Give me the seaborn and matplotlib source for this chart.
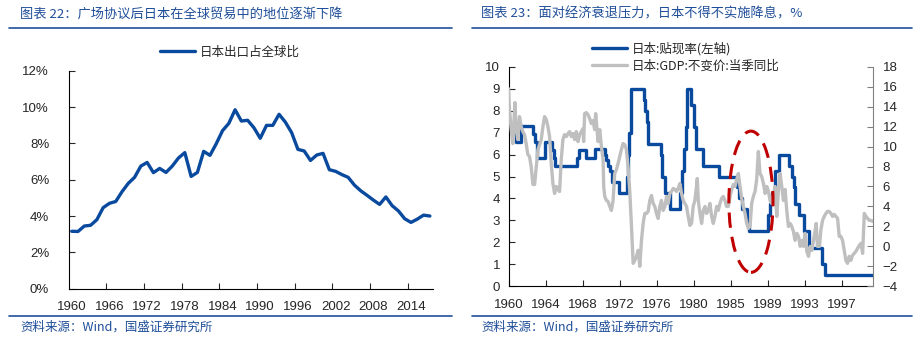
import matplotlib
matplotlib.use("Agg")
import matplotlib.pyplot as plt
from matplotlib.lines import Line2D
from matplotlib.patches import Ellipse
from matplotlib.ticker import PercentFormatter, FixedLocator, NullFormatter
import pandas as pd
import seaborn as sns

# ---- left panel: Japan share of world exports (%) ----
years = list(range(1960, 2018))
export_share = [3.16, 3.15, 3.45, 3.49, 3.80, 4.46, 4.70, 4.80, 5.34, 5.80,
                6.13, 6.75, 6.95, 6.39, 6.62, 6.40, 6.75, 7.20, 7.49, 6.18,
                6.40, 7.56, 7.34, 7.98, 8.70, 9.10, 9.85, 9.23, 9.27, 8.86,
                8.28, 8.99, 8.99, 9.60, 9.17, 8.59, 7.67, 7.58, 7.06, 7.36,
                7.45, 6.55, 6.46, 6.28, 6.13, 5.70, 5.39, 5.14, 4.88, 4.64,
                5.05, 4.57, 4.28, 3.85, 3.65, 3.83, 4.05, 4.00]
left_labels = ['1960', '1966', '1972', '1978', '1984', '1990', '1996', '2002', '2008', '2014']

# ---- right panel: discount rate (steps) and real GDP yoy ----
# x is the chart's own (uneven) time axis, in label units
rate_t = [1960.00, 1960.65, 1960.83, 1961.37, 1962.64, 1962.82, 1963.07, 1963.90,
          1964.73, 1964.87, 1965.05, 1967.40, 1967.62, 1968.34, 1969.31, 1970.40,
          1970.58, 1970.76, 1970.94, 1971.23, 1971.91, 1972.85, 1972.92, 1973.03,
          1973.29, 1974.66, 1974.80, 1974.98, 1975.09, 1976.53, 1976.61, 1976.90,
          1977.44, 1978.52, 1978.70, 1978.95, 1979.17, 1979.24, 1979.71, 1980.04,
          1980.25, 1981.05, 1982.78, 1984.73, 1984.95, 1985.20, 1985.74, 1985.96,
          1988.09, 1988.30, 1988.45, 1988.81, 1989.28, 1990.36, 1990.61, 1990.83,
          1991.01, 1991.37, 1991.88, 1992.42, 1993.86, 1994.22, 1999.39]
rate_v = [7.30, 6.94, 6.57, 7.30, 6.94, 6.57, 5.84, 6.57,
          6.21, 5.84, 5.48, 5.84, 6.21, 5.84, 6.25, 6.00,
          5.75, 5.50, 5.25, 4.75, 4.25, 5.00, 6.00, 7.00,
          9.00, 8.50, 8.00, 7.50, 6.50, 6.00, 5.00, 4.25,
          3.50, 4.25, 5.25, 6.25, 7.25, 9.00, 8.25, 7.25,
          6.25, 5.50, 5.00, 4.50, 4.00, 3.50, 3.00, 2.50,
          3.25, 3.75, 4.25, 5.25, 6.00, 5.50, 5.00, 4.50,
          3.75, 3.25, 2.50, 1.75, 1.00, 0.50, 0.50]

gdp_t = [1960.00, 1960.11, 1960.29, 1960.47, 1960.69, 1960.83, 1961.01, 1961.19, 1961.37, 1961.55,
         1961.73, 1961.91, 1962.09, 1962.27, 1962.45, 1962.64, 1962.82, 1963.00, 1963.18, 1963.54,
         1963.72, 1963.90, 1964.08, 1964.26, 1964.44, 1964.62, 1964.80, 1964.98, 1965.16, 1965.34,
         1965.52, 1965.70, 1965.88, 1966.06, 1966.25, 1966.43, 1966.61, 1966.79, 1966.97, 1967.15,
         1967.33, 1967.51, 1967.69, 1967.87, 1968.05, 1968.12, 1968.23, 1968.41, 1968.59, 1968.77,
         1968.95, 1969.13, 1969.31, 1969.42, 1969.57, 1969.68, 1969.86, 1970.04, 1970.22, 1970.29,
         1970.40, 1970.58, 1970.76, 1970.94, 1971.12, 1971.30, 1971.48, 1971.66, 1971.84, 1972.02,
         1972.20, 1972.38, 1972.56, 1972.74, 1972.92, 1973.10, 1973.29, 1973.47, 1973.65, 1973.83,
         1974.01, 1974.19, 1974.37, 1974.55, 1974.73, 1974.91, 1975.09, 1975.27, 1975.45, 1975.63,
         1975.81, 1975.99, 1976.17, 1976.35, 1976.53, 1976.71, 1976.90, 1977.08, 1977.26, 1977.44,
         1977.62, 1977.80, 1977.98, 1978.16, 1978.34, 1978.52, 1978.70, 1978.88, 1979.06, 1979.24,
         1979.42, 1979.60, 1979.78, 1979.96, 1980.14, 1980.32, 1980.40, 1980.51, 1980.69, 1980.87,
         1981.05, 1981.23, 1981.41, 1981.59, 1981.77, 1981.95, 1982.13, 1982.31, 1982.49, 1982.67,
         1982.85, 1983.03, 1983.21, 1983.39, 1983.57, 1983.75, 1983.94, 1984.12, 1984.30, 1984.48,
         1984.66, 1984.84, 1985.02, 1985.20, 1985.38, 1985.56, 1985.74, 1985.92, 1986.10, 1986.28,
         1986.46, 1986.64, 1986.82, 1987.00, 1987.18, 1987.36, 1987.55, 1987.73, 1987.91, 1988.09,
         1988.27, 1988.45, 1988.63, 1988.81, 1988.99, 1989.17, 1989.35, 1989.53, 1989.71, 1989.89,
         1990.07, 1990.25, 1990.43, 1990.61, 1990.79, 1990.97, 1991.16, 1991.34, 1991.52, 1991.70,
         1991.88, 1992.06, 1992.24, 1992.42, 1992.60, 1992.78, 1992.96, 1993.14, 1993.25, 1993.39,
         1993.61, 1993.75, 1993.94, 1994.12, 1994.30, 1994.48, 1994.66, 1994.84, 1995.02, 1995.20,
         1995.38, 1995.56, 1995.74, 1995.92, 1996.10, 1996.28, 1996.46, 1996.64, 1996.82, 1997.00,
         1997.18, 1997.36, 1997.54, 1997.73, 1997.91, 1998.09, 1998.27, 1998.45, 1998.63, 1998.81,
         1998.99, 1999.17, 1999.39]
gdp_v = [15.8, 13.7, 11.7, 10.3, 14.4, 11.7, 10.7, 13.0, 12.0, 11.5,
         11.2, 10.3, 9.2, 9.0, 8.0, 6.2, 6.2, 8.0, 9.7, 10.7,
         12.0, 13.0, 12.7, 12.0, 11.0, 8.3, 6.3, 5.3, 6.0, 5.7,
         5.5, 8.7, 10.7, 11.2, 11.0, 11.3, 11.5, 11.0, 11.3, 10.7,
         11.5, 10.5, 11.2, 11.5, 11.8, 10.5, 13.3, 13.4, 13.2, 12.8,
         12.3, 12.6, 11.7, 13.3, 11.7, 10.5, 11.7, 10.0, 8.7, 6.0,
         5.0, 4.6, 4.5, 4.0, 3.6, 4.6, 7.3, 7.7, 8.3, 9.0,
         9.7, 10.3, 10.2, 9.7, 8.0, 5.6, 2.0, -1.7, -1.4, -1.0,
         -0.4, -2.0, 0.6, 2.3, 3.3, 3.3, 3.5, 4.6, 5.1, 4.3,
         4.0, 3.3, 2.8, 4.0, 4.6, 3.6, 4.0, 5.0, 4.3, 5.3,
         5.5, 5.8, 5.7, 5.5, 5.8, 6.3, 5.3, 4.6, 4.3, 4.0,
         3.0, 2.1, 2.3, 4.0, 4.6, 6.0, 6.8, 4.6, 3.3, 2.3,
         3.6, 4.0, 3.3, 3.6, 4.3, 3.0, 2.3, 3.0, 4.0, 3.6,
         4.3, 4.8, 5.0, 4.6, 4.0, 4.0, 5.0, 5.7, 6.2, 6.0,
         6.7, 7.3, 6.0, 4.8, 4.0, 3.3, 2.3, 1.8, 2.0, 4.3,
         5.0, 5.5, 6.7, 9.5, 7.3, 7.0, 6.3, 5.3, 6.0, 5.5,
         4.6, 4.3, 5.3, 6.0, 3.0, 5.7, 7.3, 6.0, 4.6, 5.7,
         3.6, 2.0, 2.3, 2.0, 1.5, 0.6, 1.3, 1.0, 0.0, 0.6,
         0.0, 1.3, -0.5, -1.0, 0.0, -0.4, 0.6, 1.6, 2.3, 0.0,
         0.0, 1.6, 2.6, 3.0, 3.3, 3.5, 3.5, 3.3, 3.0, 3.2,
         3.0, 2.8, 1.0, 1.0, 0.6, -0.4, -1.4, -1.7, -1.0, -1.4,
         -0.9, -0.7, -0.5, -0.2, 0.1, 0.3, -0.7, 3.3, 3.0, 2.8,
         2.6, 2.6, 2.5]
right_labels = ['1960', '1964', '1968', '1972', '1976', '1980', '1985', '1989', '1993', '1997']

BLUE = '#0A4A9E'
GRAY = '#BFBFBF'
TITLE_BLUE = '#1F4E99'

sns.set_theme(style='ticks')
plt.rcParams['font.family'] = ['Liberation Sans', 'Noto Sans CJK SC', 'DejaVu Sans']
plt.rcParams['axes.linewidth'] = 0.8
CJK = ['Noto Sans CJK SC', 'DejaVu Sans']

W, H = 923, 339
fig = plt.figure(figsize=(W / 100, H / 100), dpi=100)


def box(x0, y_top, x1, y_bot):
    return [x0 / W, 1 - y_bot / H, (x1 - x0) / W, (y_bot - y_top) / H]


def hline(x0, x1, y):
    fig.add_artist(Line2D([x0 / W, x1 / W], [1 - y / H, 1 - y / H],
                          color='#1F4E99', lw=1.2, transform=fig.transFigure))


# headers / footers
fig.text(20 / W, 1 - 14 / H, '图表 22：广场协议后日本在全球贸易中的地位逐渐下降',
         family=CJK, fontsize=9.5, color=TITLE_BLUE, va='center')
fig.text(481 / W, 1 - 14 / H, '图表 23：面对经济衰退压力，日本不得不实施降息，%',
         family=CJK, fontsize=9.5, color=TITLE_BLUE, va='center')
hline(9, 452, 28.3)
hline(472, 912, 28.3)
hline(9, 452, 316)
hline(472, 912, 316)
fig.text(20 / W, 1 - 327 / H, '资料来源：Wind，国盛证券研究所', family=CJK,
         fontsize=9, color=TITLE_BLUE, va='center')
fig.text(481 / W, 1 - 327 / H, '资料来源：Wind，国盛证券研究所', family=CJK,
         fontsize=9, color=TITLE_BLUE, va='center')

# ---- left chart ----
ax1 = fig.add_axes(box(68.6, 70.7, 433, 288.7))
df1 = pd.DataFrame({'year': years, 'share': export_share})
sns.lineplot(data=df1, x='year', y='share', ax=ax1, color=BLUE, lw=2.4,
             label='日本出口占全球比', legend=False)
ax1.set_xlim(1959.5, 2017.5)
ax1.set_ylim(0, 12)
ax1.set_yticks(range(0, 13, 2))
ax1.yaxis.set_major_formatter(PercentFormatter(decimals=0))
ax1.xaxis.set_major_locator(FixedLocator([y - 0.5 for y in range(1966, 2015, 6)]))
ax1.xaxis.set_major_formatter(NullFormatter())
ax1.xaxis.set_minor_locator(FixedLocator([int(s) for s in left_labels]))
ax1.set_xticklabels(left_labels, minor=True)
ax1.tick_params(axis='x', which='minor', length=0, pad=9, labelsize=9.5)
ax1.tick_params(axis='x', which='major', direction='in', length=4, width=0.8)
ax1.tick_params(axis='y', direction='in', length=4, width=0.8, labelsize=9.5, pad=14)
ax1.set_xlabel('')
ax1.set_ylabel('')
for s in ['top', 'right']:
    ax1.spines[s].set_visible(False)
for s in ['left', 'bottom']:
    ax1.spines[s].set_color('black')

h1, l1 = ax1.get_legend_handles_labels()
fig.legend(h1, l1, loc='center', bbox_to_anchor=(230 / W, 1 - 52.3 / H),
           frameon=False, prop={'family': CJK, 'size': 9}, handlelength=2.8,
           handletextpad=0.4, borderpad=0, borderaxespad=0)

# ---- right chart ----
ax2 = fig.add_axes(box(508.5, 66.7, 873, 286.3))
ax3 = ax2.twinx()
df_rate = pd.DataFrame({'t': rate_t, 'rate': rate_v})
df_gdp = pd.DataFrame({'t': gdp_t, 'gdp': gdp_v})
sns.lineplot(data=df_rate, x='t', y='rate', ax=ax2, color=BLUE, lw=2.4,
             drawstyle='steps-post', label='日本:贴现率(左轴)', legend=False)
sns.lineplot(data=df_gdp, x='t', y='gdp', ax=ax3, color=GRAY, lw=2.4,
             label='日本:GDP:不变价:当季同比', legend=False)

x_end = rate_t[-1]
ax2.set_xlim(1960, x_end)
ax2.set_ylim(0, 10)
ax3.set_ylim(-4, 18)
ax2.set_yticks(range(0, 11))
ax3.set_yticks(range(-4, 19, 2))
tick_pos = [1960 + 4 * i for i in range(len(right_labels))]
ax2.set_xticks(tick_pos)
ax2.set_xticklabels(right_labels)
ax2.tick_params(axis='x', direction='in', length=4, width=0.8, labelsize=9.5, pad=9)
ax2.tick_params(axis='y', direction='in', length=4, width=0.8, labelsize=9.5, pad=6)
ax3.tick_params(axis='y', direction='in', length=4, width=0.8, labelsize=9.5, pad=7,
                color='#808080')
for a in (ax2, ax3):
    a.set_xlabel('')
    a.set_ylabel('')
    a.spines['top'].set_visible(False)
ax2.spines['right'].set_visible(False)
ax3.spines['left'].set_visible(False)
ax3.spines['bottom'].set_visible(False)
ax3.spines['right'].set_color('#808080')
ax2.spines['left'].set_color('black')
ax2.spines['bottom'].set_color('black')

# red dashed circle around the late-1980s easing
ax3.add_patch(Ellipse((1986.2, 4.47), 4.77, 14.15, fill=False, edgecolor='#C00000',
                      lw=2.2, linestyle=(0, (5, 3)), zorder=5))

h2, l2 = ax2.get_legend_handles_labels()
h3, l3 = ax3.get_legend_handles_labels()
fig.legend(h2 + h3, l2 + l3, loc='upper left', bbox_to_anchor=(592 / W, 1 - 42 / H),
           frameon=False, prop={'family': CJK, 'size': 9}, handlelength=2.8,
           handletextpad=0.4, borderpad=0, borderaxespad=0, labelspacing=0.35)

fig.savefig('out.png', dpi=100)
